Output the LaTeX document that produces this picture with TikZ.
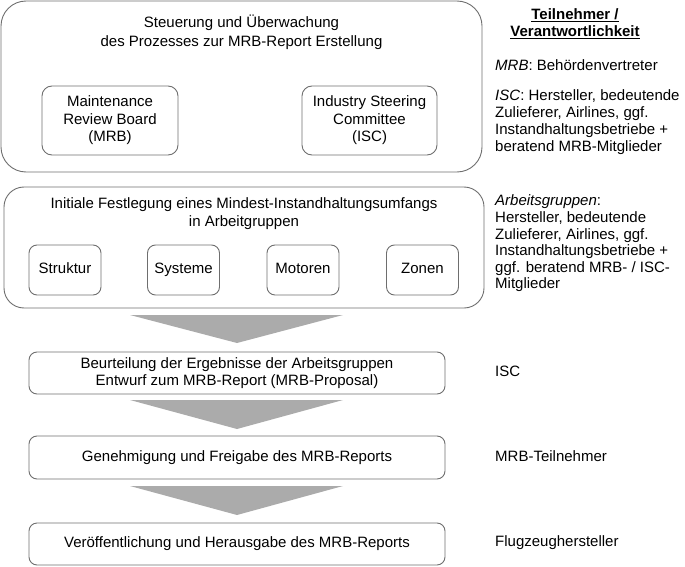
\documentclass[tikz,border=0pt]{standalone}
\usepackage{fontspec}
\setmainfont{Liberation Sans}
\begin{document}
\begin{tikzpicture}[x=1pt,y=-1pt,
  every node/.style={font=\fontsize{15}{18}\selectfont, inner sep=0pt},
  frame/.style={draw=linegray, line width=0.9pt, rounded corners=#1},
  frame/.default=8pt,
  txt/.style={align=center},
  oneline/.style={text height=10.8pt, text depth=3.2pt},
  side/.style={align=left, anchor=west},
  tri/.style={fill=trigray, draw=none}]
\definecolor{linegray}{HTML}{6E6E6E}
\definecolor{trigray}{HTML}{ABABAB}
\useasboundingbox (0,0) rectangle (685,567);

% top box
\node[frame=25pt, minimum width=481pt, minimum height=171pt] (top) at (241.5,86.5) {};
\node[txt, font=\fontsize{15}{19}\selectfont] (toptxt) at (241.5,32.5) {Steuerung und Überwachung\\des Prozesses zur MRB-Report Erstellung};
\node[frame=10pt, minimum width=136pt, minimum height=69pt, txt, font=\fontsize{15}{17.5}\selectfont] (mrb) at (110,120.5) {Maintenance\\Review Board\\(MRB)};
\node[frame=10pt, minimum width=135pt, minimum height=69pt, txt, font=\fontsize{15}{17.5}\selectfont] (isc) at (369.5,120.5) {Industry Steering\\Committee\\(ISC)};

% second box
\node[frame=20pt, minimum width=480pt, minimum height=121pt] (ag) at (244,247.5) {};
\node[txt] (agtxt) at (244,214) {Initiale Festlegung eines Mindest-Instandhaltungsumfangs\\in Arbeitgruppen};
\node[frame=8pt, oneline, minimum width=72pt, minimum height=50pt] (s1) at (65,270) {Struktur};
\node[frame=8pt, oneline, minimum width=72pt, minimum height=50pt] (s2) at (183.5,270) {Systeme};
\node[frame=8pt, oneline, minimum width=72pt, minimum height=50pt] (s3) at (303,270) {Motoren};
\node[frame=8pt, oneline, minimum width=72pt, minimum height=50pt] (s4) at (422.5,270) {Zonen};

% process boxes
\node[frame=8pt, minimum width=416pt, minimum height=42pt, txt, font=\fontsize{15}{17}\selectfont] (b3) at (237,373) {Beurteilung der Ergebnisse der Arbeitsgruppen\\Entwurf zum MRB-Report (MRB-Proposal)};
\node[frame=8pt, oneline, minimum width=416pt, minimum height=43pt] (b4) at (237,457.5) {Genehmigung und Freigabe des MRB-Reports};
\node[frame=8pt, oneline, minimum width=416pt, minimum height=42pt] (b5) at (237,544) {Veröffentlichung und Herausgabe des MRB-Reports};

% triangles between the process stages
\fill[tri] (130,315) -- (343,315) -- (237,343) -- cycle;
\fill[tri] (130,400) -- (343,400) -- (237,429) -- cycle;
\fill[tri] (130,486) -- (343,486) -- (237,515) -- cycle;

% right column
\node[align=center, font=\fontsize{15}{17}\selectfont\bfseries] (hdr) at (575,23.5) {\underline{Teilnehmer /}\\\underline{Verantwortlichkeit}};
\node[side, oneline] (r1) at (495,67) {\textit{MRB}: Behördenvertreter};
\node[side, font=\fontsize{15}{17}\selectfont] (r2) at (495,122.5) {\textit{ISC}: Hersteller, bedeutende\\Zulieferer, Airlines, ggf.\\Instandhaltungsbetriebe +\\beratend MRB-Mitglieder};
\node[side, font=\fontsize{15}{16.6}\selectfont] (r3) at (495,243.5) {\textit{Arbeitsgruppen}:\\Hersteller, bedeutende\\Zulieferer, Airlines, ggf.\\Instandhaltungsbetriebe +\\ggf. beratend MRB- / ISC-\\Mitglieder};
\node[side, oneline] (r4) at (495,373) {ISC};
\node[side, oneline] (r5) at (495,458) {MRB-Teilnehmer};
\node[side, oneline] (r6) at (495,543) {Flugzeughersteller};
\end{tikzpicture}
\end{document}
